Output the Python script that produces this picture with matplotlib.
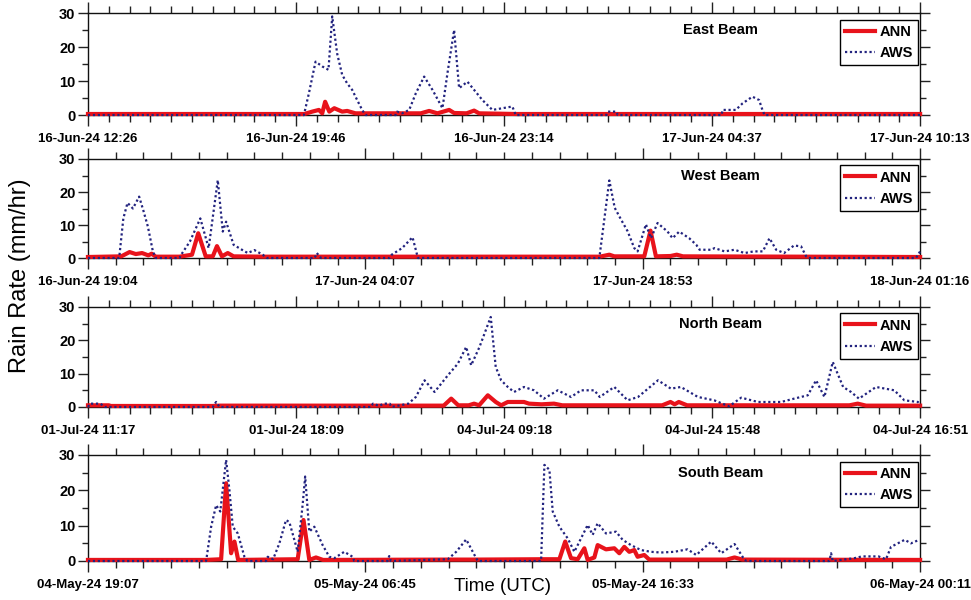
import matplotlib.pyplot as plt
from matplotlib.ticker import AutoMinorLocator, MultipleLocator

# x data is the sample position along each record (0..200), y is rain rate (mm/hr)
east_labels = ['16-Jun-24 12:26', '16-Jun-24 19:46', '16-Jun-24 23:14', '17-Jun-24 04:37', '17-Jun-24 10:13']
east_aws_x = [0, 51.9, 53.1, 54.7, 56.3, 57.8, 58.7, 59.9, 61.1, 62.3, 63.5, 64.7, 65.9, 66.7, 74, 74.3, 75.5,
              77.2, 78.8, 80.8, 82.8, 85.2, 86.4, 88, 89.2, 91.2, 92.8, 94.8, 97.2, 99.6, 102, 102.8, 124.6, 125,
              127, 127.3, 152.3, 152.5, 155.7, 157.3, 159.7, 161.3, 162.1, 162.6, 200]
east_aws_y = [0, 0, 6.4, 15.7, 14.3, 13.3, 29, 18, 11.8, 9.3, 7.4, 4.4, 1.5, 0, 0, 1, 0.5,
              1.5, 6.4, 11.3, 7.4, 2, 12.3, 25, 7.9, 9.8, 7.4, 4.4, 1.5, 2, 2.5, 0, 0, 1,
              1, 0, 0, 1.5, 1.5, 3.4, 5.4, 4.4, 1.5, 0, 0]
east_ann_x = [0, 52, 53.9, 55.5, 56.3, 57, 58, 59.2, 61.1, 62.3, 64.3, 80, 82, 84, 86.8, 88, 91, 92.8, 94,
              103, 125, 127, 152, 162, 200]
east_ann_y = [0.3, 0.3, 1, 1.5, 0.5, 3.9, 1, 2, 1, 1.2, 0.5, 0.5, 1.2, 0.5, 1.5, 0.6, 0.5, 1.3, 0.5,
              0.3, 0.3, 0.3, 0.3, 0.3, 0.3]

west_labels = ['16-Jun-24 19:04', '17-Jun-24 04:07', '17-Jun-24 18:53', '18-Jun-24 01:16']
west_aws_x = [0, 7.5, 8.5, 9.5, 10.8, 12.3, 13.4, 14.4, 15.6, 16.3, 22, 22.4, 24.5, 27, 29, 31.2, 32.4, 33.2,
              35, 37, 38.4, 40, 42, 43, 54.5, 55, 56, 72.5, 73, 75.5, 78, 79.3, 122.9, 125.3, 126.6,
              128.1, 129.7, 131.3, 132.1, 134.1, 135.3, 136.9, 139.3, 140.5, 142.1, 144.5, 146.2, 147,
              149.8, 150.6, 153, 155.4, 157.8, 160, 162.2, 163.8, 165.4, 167.3, 169.7, 171.4, 172.6,
              173.2, 199, 200]
west_aws_y = [0, 0, 12, 16.7, 15, 18.6, 14, 9.5, 2, 0, 0, 1, 5, 12, 3, 23.6, 8, 11,
              4, 2.5, 1.5, 2.4, 1, 0, 0, 1.5, 0, 0, 1, 3, 6.3, 0, 0, 23.5, 15.2,
              11.7, 8.1, 3, 2, 10.2, 6, 10.6, 8, 6, 8, 6, 4, 2.5,
              2.5, 3, 2, 2.5, 1.5, 2, 2, 6, 2.5, 1.5, 3.8, 3.5, 0.5,
              0, 0, 2]
west_ann_x = [0, 8, 10, 11.5, 13, 14.5, 15.3, 16.3, 22, 25, 26.5, 28.3, 30, 31, 32.2, 33.6, 35, 42.5, 54.5,
              56, 72.5, 80, 123, 125.3, 126.5, 133.7, 135.2, 136.5, 140, 141.5, 143, 172.5, 200]
west_ann_y = [0.3, 0.5, 1.8, 1.2, 1.5, 0.8, 1.3, 0.4, 0.4, 1, 7.5, 0.5, 0.5, 3.6, 0.5, 1.5, 0.5, 0.4, 0.4,
              0.4, 0.4, 0.4, 0.4, 1, 0.5, 0.5, 8.3, 0.5, 0.6, 1, 0.5, 0.4, 0.3]

north_labels = ['01-Jul-24 11:17', '01-Jul-24 18:09', '04-Jul-24 09:18', '04-Jul-24 15:48', '04-Jul-24 16:51']
north_aws_x = [0, 0.5, 3, 4, 30, 30.8, 31.6, 68, 68.5, 70, 71, 72.5, 73, 77, 78.8, 80.9, 83.3, 86.5, 88.9,
               90.9, 92.1, 94.1, 96.8, 98, 99.3, 100.9, 102.4, 104.8, 107.2, 109.6, 112.9, 116.1, 118.5,
               121.7, 123, 126.5, 129.7, 132.2, 137, 140.1, 142.5, 146.6, 150.5, 154.1, 157, 161, 166.6,
               169.7, 173, 175, 177, 179, 181.5, 183.4, 185.3, 189.4, 193.8, 196.2, 199.5, 200]
north_aws_y = [0, 1, 1, 0, 0, 1.5, 0, 0, 1, 0.3, 1, 1, 0, 1, 3, 8, 4.5, 9.5, 13,
               18, 12.5, 18, 27, 12, 8, 6, 4.5, 6, 5, 2.5, 5, 3, 5,
               5, 3, 6, 2, 3, 8, 5.5, 6, 3, 2, 0.2, 2.8, 1.5, 1.5,
               2.5, 3.5, 8, 3, 13.5, 6, 4.5, 2.5, 6, 5, 2, 1.5, 0.5]
north_ann_x = [0, 5, 5.5, 30, 31.6, 68, 73, 77, 85.5, 87.3, 89, 91.5, 92.8, 94, 96.1, 98, 99.3, 100.9,
               104.8, 106, 109, 112, 114, 138, 140, 141, 142, 144, 183, 185, 187, 200]
north_ann_y = [0.5, 0.5, 0.3, 0.3, 0.4, 0.4, 0.4, 0.4, 0.4, 2.5, 0.5, 0.5, 1, 0.5, 3.5, 1.5, 0.5, 1.5,
               1.5, 1, 0.8, 1, 0.5, 0.5, 1.5, 0.8, 1.5, 0.5, 0.5, 1, 0.4, 0.4]

south_labels = ['04-May-24 19:07', '05-May-24 06:45', '05-May-24 16:33', '06-May-24 00:11']
south_aws_x = [0, 28.4, 29.6, 30.8, 31.8, 33.2, 34, 34.8, 36, 37.6, 38.3, 42.8, 43.2, 44.5, 46, 47.6, 48.4,
               49.6, 50.4, 51.6, 52.2, 53.2, 54.4, 56.4, 58, 59.2, 61.6, 63.6, 64, 72, 72.4, 72.8, 86.5,
               88.5, 90.9, 93.3, 93.7, 108.9, 109.7, 110.9, 111.7, 113.3, 115.3, 116.9, 118.5, 120.1,
               121.3, 122.5, 124.5, 126.9, 128.5, 130.5, 132.9, 135.3, 137.7, 140.9, 144.1, 146.2,
               149.8, 152.2, 155.4, 157.8, 158.3, 178.2, 178.6, 179, 184.2, 186, 190, 191.8, 193,
               196.3, 197.8, 199.8]
south_aws_y = [0, 0, 9.7, 15.8, 14, 28.6, 20, 9.7, 7.8, 1.2, 0, 0, 1.2, 0.5, 5, 11.6, 11,
               6, 2.6, 16, 23.9, 8.3, 9.7, 4.5, 1.2, 0.8, 2.6, 1.2, 0, 0, 1.4, 0, 0.5,
               2.6, 6.1, 0.8, 0, 0, 27.2, 25.8, 14, 9.7, 6.4, 2.6, 6.4, 10.2,
               7.4, 10.7, 7.8, 8.3, 6, 4.5, 3.1, 2.6, 2.4, 2.6, 3.3, 1.7,
               5.5, 2.2, 4.8, 0.3, 0, 0, 2.2, 0, 0.8, 1.3, 1.3, 0.5, 4,
               6, 5, 6]
south_ann_x = [0, 28.4, 32, 33.2, 34.4, 35.2, 36.1, 50.4, 51.8, 53.2, 54.8, 56.5, 86.5, 93.5, 109,
               113.3, 114.7, 116.1, 117.7, 119.3, 120.1, 121.7, 122.5, 124.5, 126.5, 127.7, 128.9,
               130.1, 131.3, 132.1, 133.7, 134.9, 153.5, 155.4, 157.3, 200]
south_ann_y = [0.3, 0.3, 0.5, 22, 2.2, 5.5, 0.3, 0.5, 11.6, 0.3, 1, 0.3, 0.4, 0.4, 0.5,
               0.5, 5.5, 0.8, 0.5, 3.6, 0.3, 1, 4.5, 3.3, 3.6, 2.2, 4,
               2.6, 3.1, 1.2, 1.7, 0.4, 0.4, 1, 0.4, 0.3]

panels = [
    ('East Beam', east_labels, east_aws_x, east_aws_y, east_ann_x, east_ann_y),
    ('West Beam', west_labels, west_aws_x, west_aws_y, west_ann_x, west_ann_y),
    ('North Beam', north_labels, north_aws_x, north_aws_y, north_ann_x, north_ann_y),
    ('South Beam', south_labels, south_aws_x, south_aws_y, south_ann_x, south_ann_y),
]

plt.rcParams['font.family'] = ['Liberation Sans', 'DejaVu Sans']
bold_font = {'family': ['Liberation Sans', 'DejaVu Sans'], 'weight': 'bold', 'size': 9.5}
big_bold = {'family': ['Liberation Sans', 'DejaVu Sans'], 'weight': 'bold', 'size': 10.5}

fig = plt.figure(figsize=(9.71, 6.0), dpi=100)

# axes boxes (left, bottom, width, height) in figure fraction
boxes = [
    [0.0906, 0.8083, 0.857, 0.170],
    [0.0906, 0.5700, 0.857, 0.165],
    [0.0906, 0.3217, 0.857, 0.1667],
    [0.0906, 0.0650, 0.857, 0.1767],
]

red = '#e8131b'
blue = '#22237f'

for box, (title, labels, aws_x, aws_y, ann_x, ann_y) in zip(boxes, panels):
    ax = fig.add_axes(box)
    ax.plot(ann_x, ann_y, color=red, linewidth=3.0, label='ANN', clip_on=False, zorder=3)
    ax.plot(aws_x, aws_y, color=blue, linestyle=(0, (1, 1.2)), linewidth=1.6, label='AWS',
            clip_on=False, zorder=4)

    ax.set_xlim(0, 200)
    ax.set_ylim(0, 30)
    n = len(labels)
    ax.set_xticks([200 * i / (n - 1) for i in range(n)])
    ax.set_xticklabels(labels, fontdict=bold_font)
    ax.xaxis.set_minor_locator(AutoMinorLocator(10))
    ax.set_yticks([0, 10, 20, 30])
    ax.set_yticklabels(['0', '10', '20', '30'], fontdict=big_bold)
    ax.yaxis.set_minor_locator(MultipleLocator(5))

    ax.tick_params(axis='x', which='major', direction='out', length=8, width=1, pad=5,
                   top=True, bottom=True, color='#222222')
    ax.tick_params(axis='x', which='minor', direction='out', length=5, width=1,
                   top=True, bottom=True, color='#222222')
    ax.tick_params(axis='y', which='major', direction='out', length=7, width=1, pad=2,
                   left=True, right=True, color='#222222')
    ax.tick_params(axis='y', which='minor', direction='out', length=4, width=1,
                   left=True, right=True, color='#222222')
    for s in ax.spines.values():
        s.set_linewidth(1.0)
        s.set_color('#111111')

    ax.text(0.76, 0.83, title, transform=ax.transAxes, ha='center', va='center', fontdict=big_bold)
    leg = ax.legend(loc='upper right', bbox_to_anchor=(0.997, 0.935), prop=big_bold,
                    handlelength=2.1, handletextpad=0.25, borderpad=0.35, labelspacing=0.5,
                    fancybox=False, framealpha=1, borderaxespad=0)
    leg.get_frame().set_edgecolor('black')
    leg.get_frame().set_linewidth(1.0)

fig.text(0.021, 0.54, 'Rain Rate (mm/hr)', rotation=90, ha='center', va='center',
         family=['Liberation Sans', 'DejaVu Sans'], fontsize=17)
fig.text(0.517, 0.022, 'Time (UTC)', ha='center', va='center',
         family=['Liberation Sans', 'DejaVu Sans'], fontsize=13.5)

fig.savefig('out.png', dpi=100)
